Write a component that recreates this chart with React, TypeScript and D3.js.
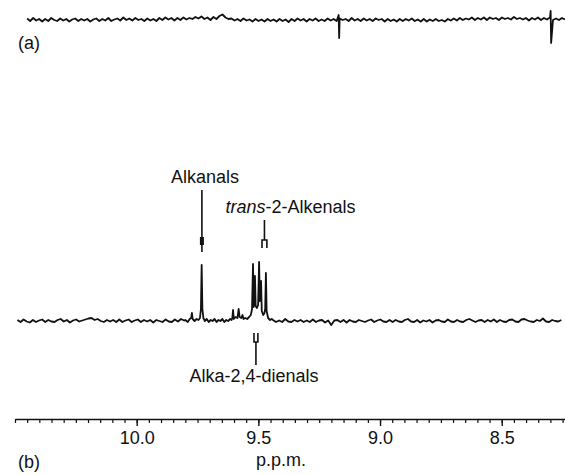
import React, { useEffect, useRef } from 'react';
import * as d3 from 'd3';

// shift range shown on the axis (p.p.m., high to low)
const shiftDomain = [10.5, 8.24];
const majorTicks = [10.0, 9.5, 9.0, 8.5];
const minorTicks = d3.range(0, 46).map(i => +(10.5 - i * 0.05).toFixed(2));

// trace (a): baseline noise, evenly spaced from start to end shift
const traceARange = [10.45, 8.24];
const traceANoise = [
  1.5, -1, 2, -0.5, 1, -1.5, 1, -1, 2, 0,
  -1, 1.5, -0.5, 1, -1.5, 0.5, 1.5, -1, 1, -0.5,
  1, -1.5, 0.5, 1.5, -1, 1, -0.5, 2, -1, 0.5,
  1.5, -0.5, 2.5, 0, 1.5, -0.5, 2, 0, 1, -1,
  1.5, -0.5, 1, -1, 2, 0, 2.5, 0.5, 2, -0.5,
  2, 0, 2.5, 0.5, 2, 1, 3, 1.5, 3.5, 1,
  2.5, 0, 3, 1, 4, 5.5, 2.5, 1, 1.5, -0.5,
  1, -1, 1.5, -0.5, 0.5, -1.5, 1, -1, 0.5, -1.5,
  1, -1, 0.5, -1.5, 1, -1, 0.5, -2, 1, -1,
  1.5, -0.5, 1, -1.5, 1, -0.5, 1.5, -1, 0.5, -1,
  1.5, -0.5, 1, -1, 1.5, 0, 1, -1, 2, -0.5,
  1, -1, 1.5, -0.5, 1, -1, 1.5, 0, 1, -1.5,
  1, -1, 0.5, -1.5, 1, -1, 1, -0.5, 1.5, -1,
  0.5, -1.5, 1, -1.5, 0.5, -1, 1, -1, 0, -1.5,
  1, -0.5, 1.5, -0.5, 2, 0, 1.5, 0.5, 2.5, 0,
  2, 0.5, 2.5, 0, 2.5, 1, 2, 0, 2.5, 1,
  2, 0.5, 3, 1, 2, 0.5, 2, -0.5, 2, 0.5,
  2.5, 0, 2, 0.5, 2.5, 0, 1.5, 0, 2, 0.5,
];
// sharp glitches in trace (a): [shift, intensity]
const traceASpikes: [number, number][] = [
  [9.170, 5], [9.168, -18], [8.299, 9], [8.297, -23],
];

// trace (b): noise left of the aldehyde region
const traceBLeftRange = [10.49, 9.805];
const traceBLeftNoise = [
  1, -1, 1.5, -0.5, -1.5, 1, -1, 0.5, 1.5, -1,
  1, -0.5, -1, 1, 2, -0.5, 1, -1.5, 0.5, 1.5,
  -0.5, 0.5, 1.5, 2.5, 3, 1, 2, 0, -1, 1,
  -0.5, 1, -1, 1.5, -1, 0.5, 1.5, -1, 0.5, 1.5,
  -1, 1, -0.5, 1, -1.5, 1, 0, -1, 1.5, -0.5,
  -1, 1.5, -0.5, 2, 0.5,
];
// trace (b): aldehyde signals [shift, intensity]
const traceBPeaks: [number, number][] = [
  [9.800, 1], [9.790, -1], [9.782, 2], [9.776, 3], [9.773, 8], [9.770, 2],
  [9.762, 0], [9.754, 2], [9.746, 1], [9.740, 3], [9.736, 12], [9.733, 56],
  [9.730, 12], [9.726, 3], [9.720, 0], [9.712, 2], [9.704, -1], [9.696, 1],
  [9.688, 0], [9.680, 2], [9.672, -1], [9.664, 1], [9.656, 0], [9.648, 2],
  [9.640, -1], [9.632, 1], [9.624, 0], [9.616, 2], [9.610, 1], [9.607, 3],
  [9.604, 11], [9.601, 2], [9.594, 4], [9.586, 3], [9.581, 12], [9.577, 4],
  [9.570, 3], [9.565, 6], [9.561, 2], [9.554, 3], [9.546, 2], [9.538, 4],
  [9.531, 6], [9.526, 12], [9.522, 57], [9.519, 14], [9.517, 20], [9.514, 45],
  [9.511, 15], [9.506, 13], [9.501, 16], [9.497, 59], [9.494, 20], [9.492, 22],
  [9.489, 40], [9.486, 10], [9.480, 6], [9.475, 8], [9.472, 12], [9.469, 48],
  [9.466, 10], [9.460, 3], [9.452, 1], [9.445, 2],
];
// trace (b): noise right of the aldehyde region
const traceBRightRange = [9.44, 8.255];
const traceBRightNoise = [
  1, -1, 0.5, -1, 2, -0.5, -1, 1, -0.5, 1,
  -1, 0.5, -1, 1.5, -1, 0.5, 1, -1.5, 0.5, -4,
  0.5, 1, -1, 1, -1.5, 1, -0.5, -1, 1, 0,
  -1, 0.5, 1.5, -1, 0.5, 1.5, -0.5, -1, 1, -1,
  1, -0.5, -1, 1, 2, -0.5, -1, 1, -1.5, 0.5,
  -0.5, 1, -1.5, 0.5, 1, -0.5, -1, 1.5, -0.5, -1,
  1, -0.5, -1, 1, 2, 0.5, -1, 0.5, 1, -1,
  1, -0.5, 1.5, -1, 1, -0.5, -1, 1, 1.5, -0.5,
  -1, 1.5, 2, 0.5, -0.5, -1, 1, 0, 2.5, -0.5,
  -1, 1, 0, -0.5, 1,
];

// assignment markers (shifts)
const alkanalShift = 9.732;
const alkenalShifts = [9.485, 9.465];
const dienalShifts = [9.518, 9.502];

const FONT = '"Liberation Sans", Arial, Helvetica, sans-serif';

const spread = (range: number[], values: number[]): [number, number][] =>
  values.map((v, i) => [range[0] + (range[1] - range[0]) * i / (values.length - 1), v]);

const NmrChart: React.FC = () => {
  const ref = useRef<SVGSVGElement | null>(null);

  useEffect(() => {
    if (!ref.current) return;
    const svg = d3.select(ref.current);
    svg.selectAll('*').remove();

    const x = d3.scaleLinear().domain(shiftDomain).range([15, 565]);
    const yA = d3.scaleLinear().domain([0, 30]).range([20, -10]);
    const yB = d3.scaleLinear().domain([0, 60]).range([321, 261]);

    const byShift = (a: [number, number], b: [number, number]) => b[0] - a[0];
    const dataA = spread(traceARange, traceANoise).concat(traceASpikes).sort(byShift);
    const dataB = spread(traceBLeftRange, traceBLeftNoise)
      .concat(traceBPeaks)
      .concat(spread(traceBRightRange, traceBRightNoise))
      .sort(byShift);

    const lineA = d3.line<[number, number]>().x(d => x(d[0])).y(d => yA(d[1]));
    const lineB = d3.line<[number, number]>().x(d => x(d[0])).y(d => yB(d[1]));

    svg.append('path').datum(dataA).attr('d', lineA)
      .attr('fill', 'none').attr('stroke', '#111').attr('stroke-width', 1.8)
      .attr('stroke-linejoin', 'round');
    svg.append('path').datum(dataB).attr('d', lineB)
      .attr('fill', 'none').attr('stroke', '#111').attr('stroke-width', 1.8)
      .attr('stroke-linejoin', 'round');

    // markers
    const mk = svg.append('g').attr('stroke', '#111').attr('fill', 'none').attr('stroke-width', 1.6);
    const ax = x(alkanalShift);
    mk.append('line').attr('x1', ax).attr('x2', ax).attr('y1', 190).attr('y2', 252);
    svg.append('rect').attr('x', ax - 2).attr('y', 237).attr('width', 4).attr('height', 8).attr('fill', '#111');

    const t1 = x(alkenalShifts[0]);
    const t2 = x(alkenalShifts[1]);
    const tm = (t1 + t2) / 2;
    mk.append('line').attr('x1', tm).attr('x2', tm).attr('y1', 220).attr('y2', 240);
    mk.append('path').attr('d', `M${t1},248V240H${t2}V248`);

    const d1 = x(dienalShifts[0]);
    const d2 = x(dienalShifts[1]);
    const dm = (d1 + d2) / 2;
    mk.append('path').attr('d', `M${d1},333V342H${d2}V333`);
    mk.append('line').attr('x1', dm).attr('x2', dm).attr('y1', 342).attr('y2', 365);

    const txt = svg.append('g').attr('font-family', FONT).attr('font-size', 18).attr('fill', '#111');
    txt.append('text').attr('x', ax + 3).attr('y', 183).attr('text-anchor', 'middle').text('Alkanals');
    const tt = txt.append('text').attr('x', tm - 39).attr('y', 213);
    tt.append('tspan').attr('font-style', 'italic').text('trans');
    tt.append('tspan').text('-2-Alkenals');
    txt.append('text').attr('x', dm - 2).attr('y', 382).attr('text-anchor', 'middle').text('Alka-2,4-dienals');
    txt.append('text').attr('x', 18).attr('y', 49).text('(a)');
    txt.append('text').attr('x', 18).attr('y', 468).text('(b)');
    txt.append('text').attr('x', 281).attr('y', 466).attr('text-anchor', 'middle').text('p.p.m.');

    // axis
    const axisY = 419;
    const minor = svg.append('g').attr('transform', `translate(0,${axisY})`)
      .call(d3.axisBottom(x).tickValues(minorTicks).tickSize(4).tickSizeOuter(0).tickFormat(() => ''));
    minor.select('.domain').attr('stroke-width', 1.6).attr('stroke', '#111');
    minor.selectAll('.tick line').attr('stroke-width', 1.2).attr('stroke', '#111');

    const major = svg.append('g').attr('transform', `translate(0,${axisY})`)
      .call(d3.axisBottom(x).tickValues(majorTicks).tickSize(7).tickPadding(5).tickFormat(d3.format('.1f')));
    major.select('.domain').remove();
    major.selectAll('.tick line').attr('stroke-width', 1.4).attr('stroke', '#111');
    major.selectAll('.tick text').attr('font-family', FONT).attr('font-size', 18).attr('fill', '#111');
  }, []);

  return (
    <svg ref={ref} width={565} height={475}
      style={{ position: 'absolute', left: 0, top: 0, background: '#fff' }} />
  );
};

export default function App() {
  return <NmrChart />;
}
